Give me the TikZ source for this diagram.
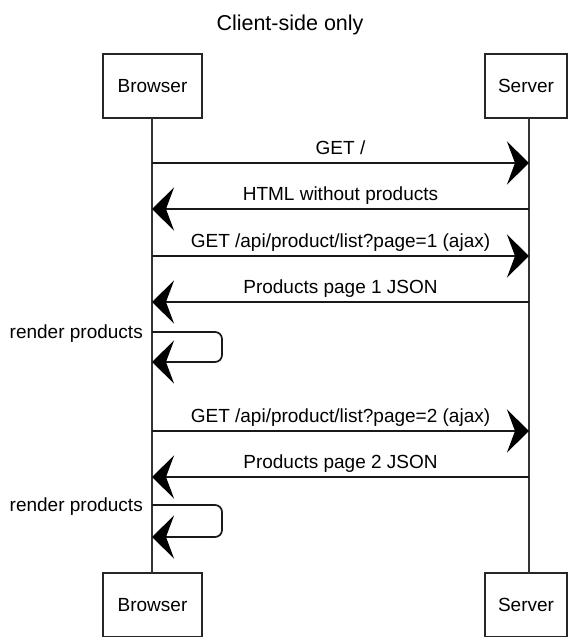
\documentclass[tikz,border=0pt]{standalone}
\usepackage{fontspec}
\setmainfont{Liberation Sans}
\usetikzlibrary{arrows.meta}
\begin{document}
\begin{tikzpicture}[x=1pt,y=-1pt,
  actor/.style={draw=black!85, line width=1.4pt, fill=white, minimum height=64pt,
    inner sep=0pt, font=\fontsize{19}{22}\selectfont},
  lifeline/.style={draw=black!80, line width=1.1pt},
  msg/.style={draw=black!90, line width=1.7pt,
    -{Stealth[length=22pt,width=43pt,inset=8pt,fill=black,color=black]}},
  lbl/.style={anchor=base, yshift=8.5pt, font=\fontsize{19}{22}\selectfont, inner sep=0pt},
  selfmsg/.style={msg, rounded corners=7pt},
  selflbl/.style={anchor=base east, font=\fontsize{19}{22}\selectfont, inner sep=0pt}
]
\useasboundingbox (0,0) rectangle (569,637);

% title
\node[anchor=base, font=\fontsize{21.5}{24}\selectfont] (title) at (290,30) {Client-side only};

% participants, top and bottom
\node[actor, minimum width=99pt] (bt) at (152.5,86) {Browser};
\node[actor, minimum width=82pt] (st) at (526,86) {Server};
\node[actor, minimum width=99pt] (bb) at (152.5,605) {Browser};
\node[actor, minimum width=82pt] (sb) at (526,605) {Server};

% lifelines
\coordinate (blt) at (152,118);
\coordinate (blb) at (152,573);
\coordinate (slt) at (529,118);
\coordinate (slb) at (529,573);
\draw[lifeline] (blt) -- (blb);
\draw[lifeline] (slt) -- (slb);

% message anchors on the lifelines
\foreach \n/\y in {1/163, 2/209, 3/256, 4/302, 5/431, 6/477} {
  \coordinate (b\n) at (152,\y);
  \coordinate (s\n) at (529,\y);
}

% messages
\draw[msg] (b1) -- node[lbl] {GET /} (s1);
\draw[msg] (s2) -- node[lbl] {HTML without products} (b2);
\draw[msg] (b3) -- node[lbl] {GET /api/product/list?page=1 (ajax)} (s3);
\draw[msg] (s4) -- node[lbl] {Products page 1 JSON} (b4);
\draw[msg] (b5) -- node[lbl] {GET /api/product/list?page=2 (ajax)} (s5);
\draw[msg] (s6) -- node[lbl] {Products page 2 JSON} (b6);

% self messages on the browser
\coordinate (r1a) at (152,332);
\coordinate (r1b) at (152,362);
\draw[selfmsg] (r1a) -- (222,332) -- (222,362) -- (r1b);
\node[selflbl] (r1) at (143,338) {render products};

\coordinate (r2a) at (152,505);
\coordinate (r2b) at (152,537);
\draw[selfmsg] (r2a) -- (222,505) -- (222,537) -- (r2b);
\node[selflbl] (r2) at (143,511) {render products};
\end{tikzpicture}
\end{document}
